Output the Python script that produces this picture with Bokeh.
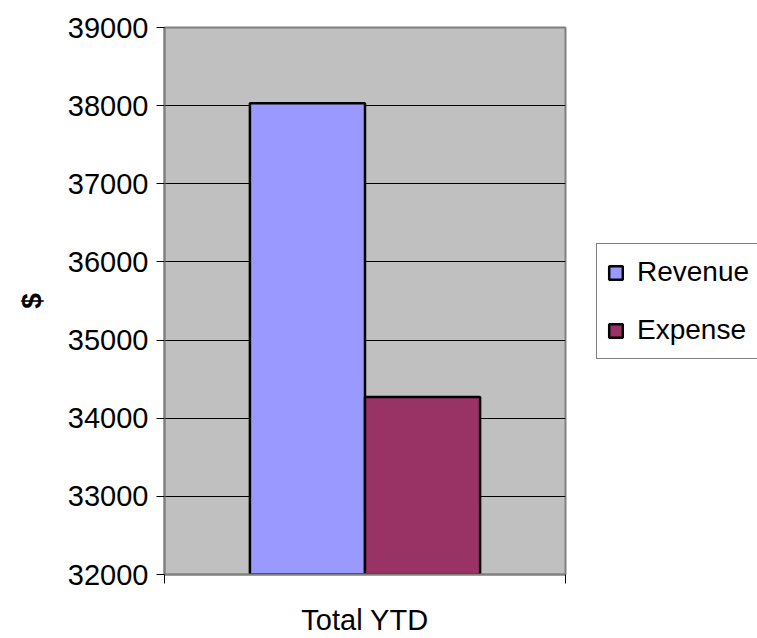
from bokeh.plotting import figure
from bokeh.models import (ColumnDataSource, FactorRange, Range1d, Legend, LegendItem,
                          FixedTicker, LinearAxis)
from bokeh.layouts import row
from bokeh.transform import dodge
from bokeh.embed import file_html
from bokeh.resources import INLINE

categories = ["Total YTD"]
revenue = [38030]
expense = [34270]
series_names = ["Revenue", "Expense"]
y_ticks = [32000, 33000, 34000, 35000, 36000, 37000, 38000, 39000]

idx = list(range(len(categories)))
src = ColumnDataSource(data=dict(cat=categories, idx=idx, revenue=revenue, expense=expense))

FONT = "Liberation Sans"
REV_COLOR = "#9999FF"
EXP_COLOR = "#993366"

p = figure(width=590, height=638, output_backend="svg", toolbar_location=None,
           x_range=Range1d(-0.5, len(categories) - 0.5), y_range=Range1d(32000, 39000),
           x_axis_location=None,
           min_border_left=164, min_border_top=27, min_border_right=25, min_border_bottom=61,
           background_fill_color="#C0C0C0", border_fill_color="white")

p.outline_line_color = "#808080"
p.outline_line_width = 2

r1 = p.vbar(x=dodge("idx", -0.1435), top="revenue", bottom=32000, width=0.287,
            source=src, fill_color=REV_COLOR, line_color="black", line_width=2.5)
r2 = p.vbar(x=dodge("idx", 0.1435), top="expense", bottom=32000, width=0.287,
            source=src, fill_color=EXP_COLOR, line_color="black", line_width=2.5)

p.xgrid.grid_line_color = None
p.ygrid.grid_line_color = "black"
p.ygrid.grid_line_width = 1
p.ygrid.ticker = FixedTicker(ticks=y_ticks)

p.yaxis.ticker = FixedTicker(ticks=y_ticks)
p.yaxis.axis_label = "$"
p.yaxis.axis_label_text_font = FONT
p.yaxis.axis_label_text_font_size = "28px"
p.yaxis.axis_label_text_font_style = "bold"
p.yaxis.axis_label_text_color = "black"
p.yaxis.axis_label_standoff = 18
p.yaxis.major_label_text_font = FONT
p.yaxis.major_label_text_font_size = "29px"
p.yaxis.major_label_text_color = "black"
p.yaxis.major_label_standoff = 8
p.yaxis.major_tick_in = 0
p.yaxis.major_tick_out = 8
p.yaxis.major_tick_line_color = "black"
p.yaxis.minor_tick_line_color = None
p.yaxis.axis_line_color = "#808080"
p.yaxis.axis_line_width = 2

# category boundary ticks (Excel style)
bounds = [i - 0.5 for i in idx] + [idx[-1] + 0.5]
edge_axis = LinearAxis(ticker=FixedTicker(ticks=bounds),
                       major_tick_in=0, major_tick_out=9, major_tick_line_color="black",
                       minor_tick_line_color=None, major_label_text_font_size="1px",
                       major_label_text_color=None,
                       major_label_standoff=0, axis_line_color="#808080", axis_line_width=2)
p.add_layout(edge_axis, "below")

cat_axis = LinearAxis(ticker=FixedTicker(ticks=idx),
                      major_label_overrides={i: c for i, c in zip(idx, categories)},
                      major_tick_line_color=None, major_tick_in=0, major_tick_out=0,
                      minor_tick_line_color=None, axis_line_color=None,
                      major_label_text_font=FONT, major_label_text_font_size="29px",
                      major_label_text_color="black", major_label_standoff=20)
p.add_layout(cat_axis, "below")

# legend panel
q = figure(width=167, height=638, output_backend="svg", toolbar_location=None,
           x_range=FactorRange(*categories), y_range=Range1d(0, 1),
           x_axis_location=None, y_axis_location=None,
           min_border_left=0, min_border_right=0, min_border_top=0, min_border_bottom=0,
           background_fill_color="white", border_fill_color="white")
q.outline_line_color = None
q.xgrid.grid_line_color = None
q.ygrid.grid_line_color = None
lr1 = q.vbar(x="cat", top="revenue", width=0.5, source=src, fill_color=REV_COLOR,
             line_color="black", line_width=2.5, visible=False)
lr2 = q.vbar(x="cat", top="expense", width=0.5, source=src, fill_color=EXP_COLOR,
             line_color="black", line_width=2.5, visible=False)

legend = Legend(items=[LegendItem(label=series_names[0], renderers=[lr1]),
                       LegendItem(label=series_names[1], renderers=[lr2])],
                location=(6, 215))
legend.border_line_color = "black"
legend.border_line_width = 1
legend.background_fill_color = "white"
legend.background_fill_alpha = 1
legend.label_text_font = FONT
legend.label_text_font_size = "28px"
legend.label_text_color = "black"
legend.label_height = 36
legend.glyph_width = 17
legend.glyph_height = 17
legend.label_standoff = 13
legend.spacing = 22
legend.padding = 10
legend.margin = 0
q.add_layout(legend, "center")

layout = row(p, q)
open("out.html", "w").write(file_html(layout, INLINE))
